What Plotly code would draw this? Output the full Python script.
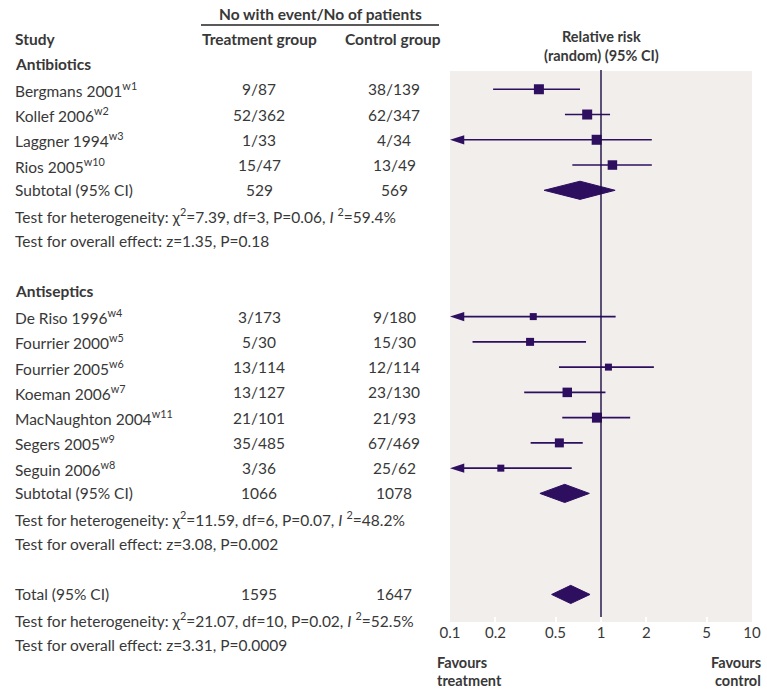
import plotly.graph_objects as go

W, H = 767, 699
ROW0_PX = 64.0
ROW_PX = 25.26

def prow(px):
    return (px - ROW0_PX) / ROW_PX

# ---------------- data ----------------
studies = ["Bergmans 2001<sup>w1</sup>", "Kollef 2006<sup>w2</sup>", "Laggner 1994<sup>w3</sup>",
           "Rios 2005<sup>w10</sup>", "De Riso 1996<sup>w4</sup>", "Fourrier 2000<sup>w5</sup>",
           "Fourrier 2005<sup>w6</sup>", "Koeman 2006<sup>w7</sup>", "MacNaughton 2004<sup>w11</sup>",
           "Segers 2005<sup>w9</sup>", "Seguin 2006<sup>w8</sup>"]
study_rows = [1, 2, 3, 4, 10, 11, 12, 13, 14, 15, 16]
treatment = ["9/87", "52/362", "1/33", "15/47", "3/173", "5/30", "13/114", "13/127", "21/101", "35/485", "3/36"]
control = ["38/139", "62/347", "4/34", "13/49", "9/180", "15/30", "12/114", "23/130", "21/93", "67/469", "25/62"]
rr = [0.388, 0.81, 0.936, 1.19, 0.356, 0.339, 1.12, 0.598, 0.94, 0.53, 0.217]
ci_low = [0.193, 0.577, 0.03, 0.646, 0.05, 0.141, 0.527, 0.31, 0.554, 0.342, 0.04]
ci_high = [0.726, 1.148, 2.17, 2.17, 1.25, 0.796, 2.24, 1.07, 1.56, 0.757, 0.64]
box_size = [10, 10, 10, 9.5, 7, 8, 7, 9.5, 10, 9, 7]

pooled_labels = ["Subtotal (95% CI)", "Subtotal (95% CI)", "Total (95% CI)"]
pooled_rows = [5, 17, 21]
pooled_treat = ["529", "1066", "1595"]
pooled_ctrl = ["569", "1078", "1647"]
pooled_rr = [0.726, 0.575, 0.63]
pooled_low = [0.42, 0.394, 0.471]
pooled_high = [1.24, 0.837, 0.846]

section_headers = ["Antibiotics", "Antiseptics"]
section_rows = [0, 9]

stat_texts = [
    "Test for heterogeneity: χ<sup>2</sup>=7.39, df=3, P=0.06, <i>I</i> <sup>2</sup>=59.4%",
    "Test for overall effect: z=1.35, P=0.18",
    "Test for heterogeneity: χ<sup>2</sup>=11.59, df=6, P=0.07, <i>I</i> <sup>2</sup>=48.2%",
    "Test for overall effect: z=3.08, P=0.002",
    "Test for heterogeneity: χ<sup>2</sup>=21.07, df=10, P=0.02, <i>I</i> <sup>2</sup>=52.5%",
    "Test for overall effect: z=3.31, P=0.0009",
]
stat_rows = [6, 7, 18, 19, 22, 23]

tick_vals = [0.1, 0.2, 0.5, 1, 2, 5, 10]
tick_text = ["0.1", "0.2", "0.5", "1", "2", "5", "10"]
x_min, x_max = 0.1, 10

# ---------------- style ----------------
FONT = "Lato"
TXT = "#383838"
PURPLE = "#2e0f5f"
GRAY_BG = "#f1eeec"
FS = 15.5
X_LEFT = 15
X_TREAT = 259
X_CTRL = 394
PLOT_L, PLOT_R = 450, 752
PLOT_T, PLOT_B = 71, 622
DIAMOND_H = 0.36

fig = go.Figure()

# CI lines
for i in range(len(rr)):
    lo = max(ci_low[i], x_min)
    if ci_low[i] < x_min:
        fig.add_trace(go.Scatter(
            x=[ci_high[i], lo], y=[study_rows[i], study_rows[i]], mode="lines+markers",
            line=dict(color=PURPLE, width=1.6),
            marker=dict(symbol="arrow", angleref="previous", size=[0, 15], color=PURPLE,
                        opacity=1, line=dict(width=0)),
            cliponaxis=False, showlegend=False, hoverinfo="skip"))
    else:
        fig.add_trace(go.Scatter(
            x=[lo, ci_high[i]], y=[study_rows[i], study_rows[i]], mode="lines",
            line=dict(color=PURPLE, width=1.6), showlegend=False, hoverinfo="skip"))

# boxes
fig.add_trace(go.Scatter(
    x=rr, y=study_rows, mode="markers",
    marker=dict(symbol="square", size=box_size, color=PURPLE, opacity=1, line=dict(width=0)),
    showlegend=False, hoverinfo="skip"))

# diamonds
for i in range(len(pooled_rr)):
    r = pooled_rows[i]
    fig.add_trace(go.Scatter(
        x=[pooled_low[i], pooled_rr[i], pooled_high[i], pooled_rr[i], pooled_low[i]],
        y=[r, r - DIAMOND_H, r, r + DIAMOND_H, r],
        mode="lines", fill="toself", fillcolor=PURPLE, line=dict(color=PURPLE, width=1),
        showlegend=False, hoverinfo="skip"))

# line of no effect
fig.add_trace(go.Scatter(
    x=[1, 1], y=[prow(70), prow(PLOT_B)], mode="lines",
    line=dict(color="#1d0c45", width=1.4), showlegend=False, hoverinfo="skip"))

shapes = [
    dict(type="rect", xref="x domain", yref="paper", x0=0, x1=1,
         y0=1 - PLOT_B / H, y1=1 - PLOT_T / H, fillcolor=GRAY_BG, line=dict(width=0), layer="below"),
    dict(type="line", xref="paper", yref="paper", x0=201 / W, x1=439 / W,
         y0=1 - 25 / H, y1=1 - 25 / H, line=dict(color="#222222", width=1.5)),
]

ann = []
def add_text(text, xpx, row, anchor="left", bold=False, size=FS):
    ann.append(dict(text=("<b>%s</b>" % text) if bold else text, x=xpx / W, xref="paper",
                    y=row, yref="y", xanchor=anchor, yanchor="middle", showarrow=False,
                    borderpad=0, borderwidth=0,
                    font=dict(family=FONT, size=size, color=TXT)))

# headers
add_text("No with event/No of patients", 320, prow(14), "center", True)
add_text("Study", X_LEFT, prow(39), "left", True)
add_text("Treatment group", X_TREAT, prow(39), "center", True)
add_text("Control group", 393, prow(39), "center", True)
add_text("Relative risk", 601, prow(36.5), "center", True, 14.5)
add_text("(random) (95% CI)", 601, prow(55.5), "center", True, 14.5)

for h, r in zip(section_headers, section_rows):
    add_text(h, X_LEFT, r, "left", True)
for i in range(len(studies)):
    add_text(studies[i], X_LEFT, study_rows[i])
    add_text(treatment[i], X_TREAT, study_rows[i], "center")
    add_text(control[i], X_CTRL, study_rows[i], "center")
for i in range(len(pooled_labels)):
    add_text(pooled_labels[i], X_LEFT, pooled_rows[i])
    add_text(pooled_treat[i], X_TREAT, pooled_rows[i], "center")
    add_text(pooled_ctrl[i], X_CTRL, pooled_rows[i], "center")
for t, r in zip(stat_texts, stat_rows):
    add_text(t, X_LEFT, r)

add_text("Favours", 437, prow(662), "left", True, 14.5)
add_text("treatment", 437, prow(680), "left", True, 14.5)
add_text("Favours", 761, prow(662), "right", True, 14.5)
add_text("control", 761, prow(680), "right", True, 14.5)

fig.update_layout(
    template="none",
    width=W, height=H, margin=dict(l=0, r=0, t=0, b=0, pad=0), autosize=False,
    paper_bgcolor="white", plot_bgcolor="rgba(0,0,0,0)",
    shapes=shapes, annotations=ann, showlegend=False,
    xaxis=dict(type="log", range=[-1, 1], domain=[PLOT_L / W, PLOT_R / W],
               anchor="free", position=1 - PLOT_B / H, automargin=False,
               tickvals=tick_vals, ticktext=tick_text, ticks="inside", ticklen=5,
               tickcolor="white", tickwidth=1.5, showgrid=False, zeroline=False, showline=False,
               tickfont=dict(family=FONT, size=15, color=TXT)),
    yaxis=dict(range=[prow(H), prow(0)], domain=[0, 1], visible=False, showgrid=False,
               automargin=False, zeroline=False),
)

fig.write_html("out.html")
